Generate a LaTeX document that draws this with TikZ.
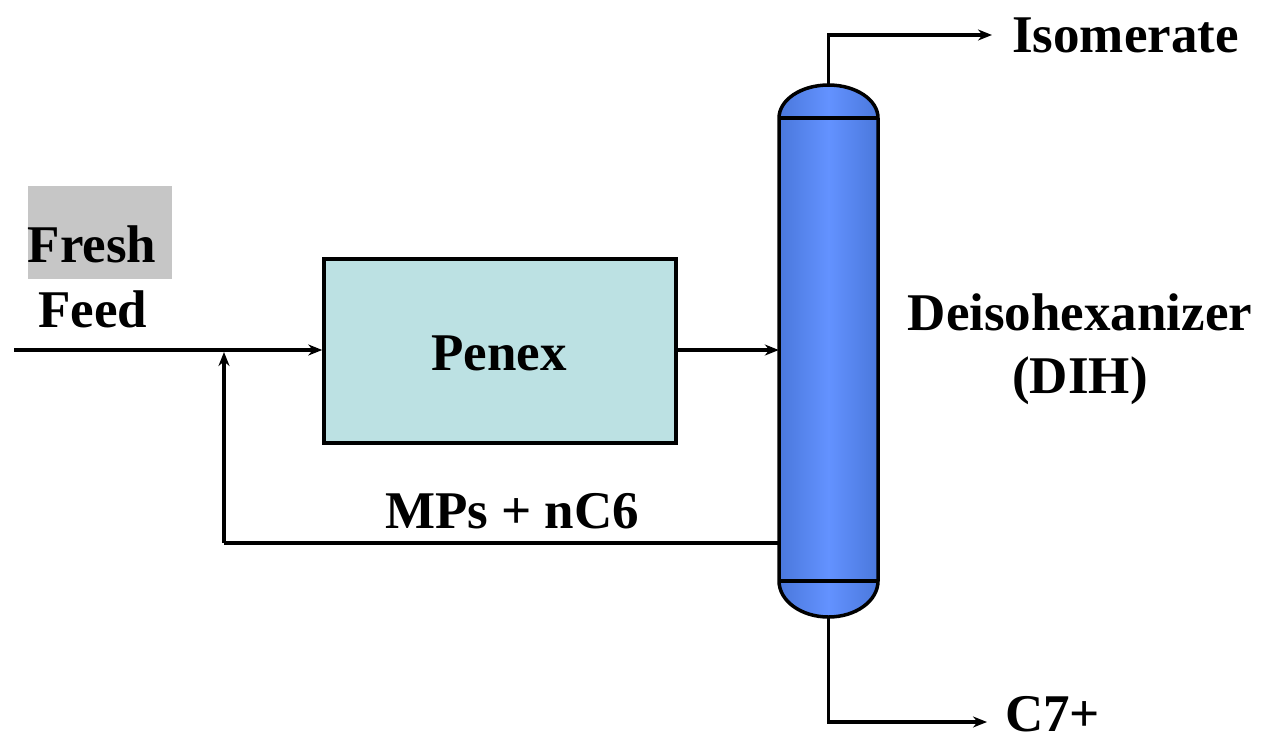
\documentclass[tikz,border=0pt]{standalone}
\usepackage{fontspec}
\setmainfont{Liberation Serif}
\usetikzlibrary{arrows.meta}
\definecolor{penexfill}{HTML}{BCE1E3}
\definecolor{coledge}{HTML}{4A78DC}
\definecolor{colmid}{HTML}{6392FF}
\definecolor{freshgray}{HTML}{C6C6C6}
\tikzset{
  lbl/.style={font=\fontsize{53}{60}\selectfont\bfseries, inner sep=0pt},
  flow/.style={line width=3.5pt, -{Stealth[length=14pt,width=11pt]}},
  pipe/.style={line width=3.5pt},
}
\begin{document}
\begin{tikzpicture}[x=1pt,y=-1pt]
\useasboundingbox (0,0) rectangle (1263,740);
% Fresh feed label
\node[fill=freshgray, minimum width=144pt, minimum height=93pt, inner sep=0pt] (graybox) at (100,232.5) {};
\node[lbl, anchor=base] (fresh) at (92,262) {Fresh};
\node[lbl, anchor=base] (feed) at (93,327) {Feed};
% Penex
\node[draw, line width=3.5pt, fill=penexfill, minimum width=352pt, minimum height=184pt, inner sep=0pt] (penex) at (500,351) {};
\node[lbl, anchor=base] (penexlbl) at (499,370) {Penex};
% Column
\shade[left color=coledge, right color=coledge, middle color=colmid]
  (779,118) arc[start angle=180, end angle=0, x radius=49.5pt, y radius=33pt]
  -- (878,581) arc[start angle=0, end angle=-180, x radius=49.5pt, y radius=36pt] -- cycle;
\draw[line width=3.5pt]
  (779,118) arc[start angle=180, end angle=0, x radius=49.5pt, y radius=33pt]
  -- (878,581) arc[start angle=0, end angle=-180, x radius=49.5pt, y radius=36pt] -- cycle;
\draw[line width=3.5pt] (779,118) -- (878,118);
\draw[line width=3.5pt] (779,581) -- (878,581);
\node[minimum width=99pt, minimum height=463pt, inner sep=0pt] (col) at (828.5,349.5) {};
\coordinate (coltop) at (828.5,85);
\coordinate (colbot) at (828.5,617);
% Labels
\node[lbl, anchor=base] (dih1) at (1080,330) {Deisohexanizer};
\node[lbl, anchor=base] (dih2) at (1080,393) {(DIH)};
\node[lbl, anchor=base west] (iso) at (1012,52) {Isomerate};
\node[lbl, anchor=base west] (c7) at (1005,731) {C7+};
\node[lbl, anchor=base] (mps) at (512,528) {MPs + nC6};
% Streams
\coordinate (feedin) at (14,350);
\coordinate (junc) at (224,350);
\coordinate (recyclecorner) at (224,543);
\draw[flow] (feedin) -- (penex.west |- feedin);
\draw[flow] (penex.east |- feedin) -- (col.west |- feedin);
\draw[pipe] (col.west |- recyclecorner) -- (recyclecorner);
\draw[flow] (recyclecorner) -- (224,352);
\coordinate (isoend) at (992,35);
\coordinate (c7end) at (987,722);
\draw[flow] (coltop) -- (coltop |- isoend) -- (isoend);
\draw[flow] (colbot) -- (colbot |- c7end) -- (c7end);
\end{tikzpicture}
\end{document}
